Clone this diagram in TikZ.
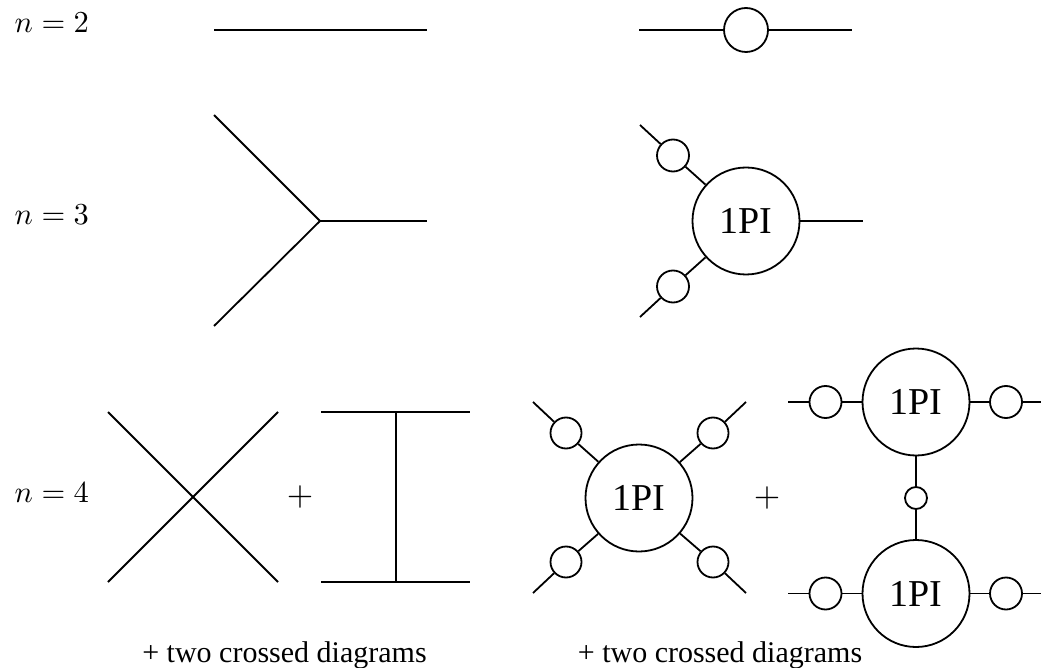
\documentclass[tikz,border=0pt]{standalone}
\usepackage{fontspec}
\setmainfont{Liberation Serif}
\begin{document}
\begin{tikzpicture}[x=1pt,y=-1pt,line width=1.8pt,
  bigv/.style={circle,draw,minimum size=107pt,inner sep=0pt,font=\fontsize{38}{40}\selectfont},
  prop/.style={circle,draw,minimum size=32pt,inner sep=0pt},
  smallprop/.style={circle,draw,minimum size=22pt,inner sep=0pt},
  lbl/.style={anchor=base west,inner sep=0pt,scale=3.05},
  plus/.style={inner sep=0pt,scale=3.4},
  note/.style={anchor=base,inner sep=0pt,font=\fontsize{30}{32}\selectfont}]
\useasboundingbox (0,0) rectangle (1041,668);

% labels
\node[lbl] (l2) at (12,33) {$n=2$};
\node[lbl] (l3) at (12,225) {$n=3$};
\node[lbl] (l4) at (12,502) {$n=4$};

% n=2 tree
\coordinate (a1) at (214,30);
\coordinate (a2) at (427,30);
\draw (a1) -- (a2);

% n=2 full
\coordinate (b1) at (639,30);
\node[prop,minimum size=44pt] (bp) at (746,30) {};
\coordinate (b2) at (852,30);
\draw (b1) -- (bp) -- (b2);

% n=3 tree
\coordinate (v3) at (320,221);
\coordinate (t1) at (214,115);
\coordinate (t2) at (214,326);
\coordinate (t3) at (427,221);
\draw (t1) -- (v3) -- (t2);
\draw (v3) -- (t3);

% n=3 full
\node[bigv] (c) at (746,221) {1PI};
\node[prop] (c1) at (673,155.5) {};
\node[prop] (c2) at (673,286.5) {};
\coordinate (ce1) at (640,125);
\coordinate (ce2) at (640,317);
\coordinate (ce3) at (863,221);
\draw (c) -- (c1) -- (ce1);
\draw (c) -- (c2) -- (ce2);
\draw (c) -- (ce3);

% n=4 tree: contact
\coordinate (x1) at (108,412);
\coordinate (x2) at (278,582);
\coordinate (x3) at (108,582);
\coordinate (x4) at (278,412);
\draw (x1) -- (x2);
\draw (x3) -- (x4);

\node[plus] (p1) at (300,497) {$+$};

% n=4 tree: exchange
\coordinate (i1) at (321,412);
\coordinate (i2) at (470,412);
\coordinate (i3) at (321,582);
\coordinate (i4) at (470,582);
\coordinate (i5) at (396,412);
\coordinate (i6) at (396,582);
\draw (i1) -- (i2);
\draw (i3) -- (i4);
\draw (i5) -- (i6);

\node[note] (n1) at (284.5,662) {+ two crossed diagrams};

% n=4 full: 1PI four-point
\node[bigv] (d) at (639,498) {1PI};
\node[prop,minimum size=31pt] (d1) at (566,433) {};
\node[prop,minimum size=31pt] (d2) at (713,433) {};
\node[prop,minimum size=31pt] (d3) at (566,562) {};
\node[prop,minimum size=31pt] (d4) at (713,562) {};
\coordinate (de1) at (533,402);
\coordinate (de2) at (746,402);
\coordinate (de3) at (533,593);
\coordinate (de4) at (746,593);
\draw (d) -- (d1) -- (de1);
\draw (d) -- (d2) -- (de2);
\draw (d) -- (d3) -- (de3);
\draw (d) -- (d4) -- (de4);

\node[plus] (p2) at (767,498) {$+$};

% n=4 full: two 1PI vertices
\node[bigv] (e) at (916,402) {1PI};
\node[bigv] (f) at (916,593.5) {1PI};
\node[smallprop] (m) at (916,498) {};
\draw (e) -- (m) -- (f);
\node[prop] (e1) at (825.5,402) {};
\node[prop] (e2) at (1006,402) {};
\node[prop] (f1) at (825.5,593.5) {};
\node[prop] (f2) at (1006,593.5) {};
\coordinate (ee1) at (788,402);
\coordinate (ee2) at (1042,402);
\coordinate (fe1) at (788,593.5);
\coordinate (fe2) at (1042,593.5);
\draw (ee1) -- (e1) -- (e) -- (e2) -- (ee2);
\draw (fe1) -- (f1) -- (f) -- (f2) -- (fe2);

\node[note] (n2) at (720,662) {+ two crossed diagrams};
\end{tikzpicture}
\end{document}
